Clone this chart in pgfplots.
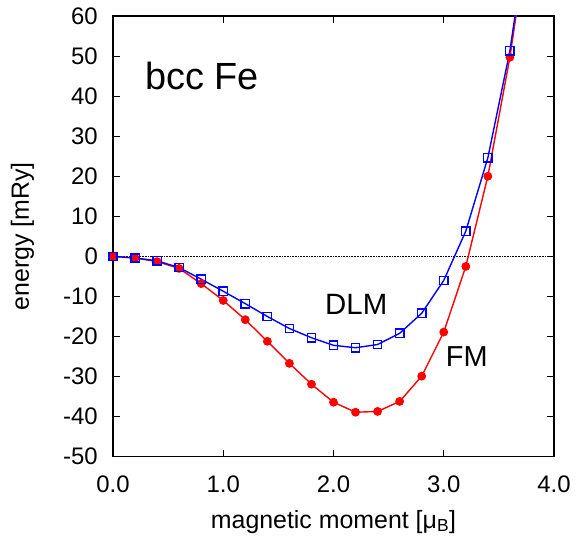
\documentclass[border=0pt]{standalone}
\usepackage{fontspec}
\setmainfont{Liberation Sans}
\usepackage{pgfplots}
\pgfplotsset{compat=1.18}
\begin{document}
\begin{tikzpicture}
\begin{axis}[
  scale only axis,
  width=441bp, height=440.7bp,
  xmin=0, xmax=4, ymin=-50, ymax=60,
  xtick={0,1,2,3,4},
  ytick={-50,-40,...,60},
  /pgf/number format/assume math mode=true,
  tick align=inside,
  major tick length=7bp,
  tick style={black, line width=0.8pt},
  axis line style={line width=1.1pt},
  ticklabel style={font=\fontsize{24}{28}\selectfont, inner sep=0pt},
  xticklabel style={anchor=base, yshift=-35.3bp,
    /pgf/number format/fixed, /pgf/number format/fixed zerofill, /pgf/number format/precision=1},
  yticklabel style={anchor=east, xshift=-15bp},
  xlabel={magnetic moment [μ\textsubscript{B}]},
  ylabel={energy [mRy]},
  label style={font=\fontsize{25}{29}\selectfont, inner sep=0pt},
  xlabel style={at={(axis description cs:0.5,0)}, anchor=base, yshift=-71.3bp},
  ylabel style={at={(axis description cs:0,0.5)}, anchor=center, yshift=90.5bp},
]
\addplot[black, densely dotted, line width=0.6pt] coordinates {(0,0) (4,0)};
% FM
\addplot[red, line width=1.4pt, mark=*, mark size=3.7pt] coordinates {
(0.0,0) (0.2,-0.4) (0.4,-1.3) (0.6,-3.0) (0.8,-6.8) (1.0,-11.0) (1.2,-15.8)
(1.4,-21.2) (1.6,-26.7) (1.8,-31.9) (2.0,-36.4) (2.2,-38.9) (2.4,-38.7)
(2.6,-36.2) (2.8,-29.9) (3.0,-18.9) (3.2,-2.5) (3.4,20.0) (3.6,49.7) (3.8,87)};
% DLM
\addplot[blue, line width=1.4pt, mark=square, mark size=4.2pt, mark options={line width=1.4pt}] coordinates {
(0.0,0) (0.2,-0.4) (0.4,-1.1) (0.6,-2.8) (0.8,-5.7) (1.0,-8.7) (1.2,-11.8)
(1.4,-15.0) (1.6,-18.0) (1.8,-20.3) (2.0,-22.2) (2.2,-22.8) (2.4,-22.0)
(2.6,-19.2) (2.8,-14.2) (3.0,-6.0) (3.2,6.3) (3.4,24.6) (3.6,51.3) (3.8,89)};
\node[anchor=base west, inner sep=0pt, font=\fontsize{38}{42}\selectfont] at (axis cs:0.29,41.7) {bcc Fe};
\node[anchor=base west, inner sep=0pt, font=\fontsize{29.5}{34}\selectfont] at (axis cs:1.923,-14.6) {DLM};
\node[anchor=base west, inner sep=0pt, font=\fontsize{29}{34}\selectfont] at (axis cs:3.018,-27.5) {FM};
\end{axis}
\path ([shift={(-113bp,-82.3bp)}]current axis.south west) rectangle ([shift={(22bp,16bp)}]current axis.north east);
\end{tikzpicture}
\end{document}
